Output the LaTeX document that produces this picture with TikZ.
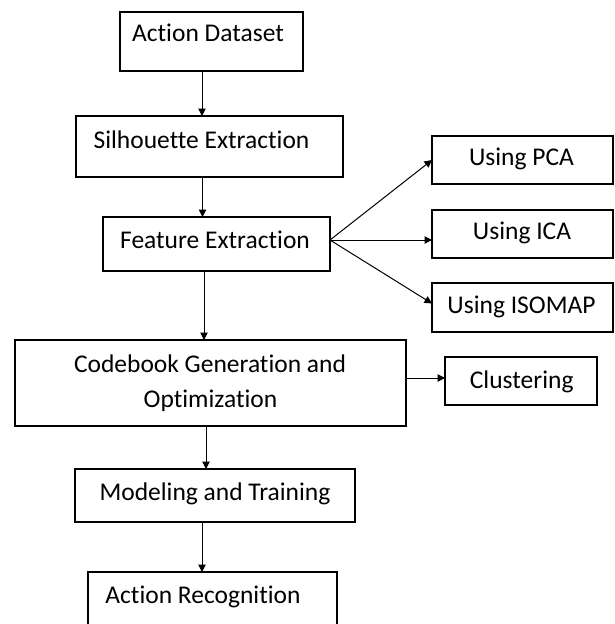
\documentclass[tikz,border=0pt]{standalone}
\usepackage{fontspec}
\setmainfont{Carlito}[Ligatures={NoCommon}]
\usetikzlibrary{arrows.meta}
\tikzset{
  mainbox/.style={draw, line width=2pt, inner sep=0pt, outer sep=0pt},
  sidebox/.style={draw, line width=1.3pt, inner sep=0pt, outer sep=0pt},
  txt/.style={inner sep=0pt, anchor=base, font=\fontsize{25.5}{30}\selectfont},
  arr/.style={line width=1pt, -{Triangle[length=7.5pt,width=7.5pt]}}
}
\begin{document}
\begin{tikzpicture}[x=1pt,y=-1pt]
\useasboundingbox (0,0) rectangle (614,624);
\clip (0,0) rectangle (614,624);
% boxes
\node[mainbox, minimum width=183pt, minimum height=58.5pt] (ad) at (211.5,41.25) {};
\node[mainbox, minimum width=267pt, minimum height=61pt] (se) at (209.5,146.5) {};
\node[mainbox, minimum width=227pt, minimum height=54pt] (fe) at (216.5,244) {};
\node[sidebox, minimum width=181pt, minimum height=48pt] (pca) at (522.5,160) {};
\node[sidebox, minimum width=181pt, minimum height=48pt] (ica) at (522.5,234) {};
\node[sidebox, minimum width=181pt, minimum height=49pt] (iso) at (522.5,307.5) {};
\node[mainbox, minimum width=391pt, minimum height=86pt] (cb) at (210.5,383) {};
\node[sidebox, minimum width=152pt, minimum height=48pt] (cl) at (521,381) {};
\node[mainbox, minimum width=280pt, minimum height=53pt] (mt) at (215,495.5) {};
\node[mainbox, minimum width=249pt, minimum height=88pt] (ar) at (212.5,616) {};
% texts
\node[txt] (tad) at (208,41.7) {Action Dataset};
\node[txt] (tse) at (201.5,148) {Silhouette Extraction};
\node[txt] (tfe) at (215,248) {Feature Extraction};
\node[txt] (tpca) at (521.5,165) {Using PCA};
\node[txt] (tica) at (522,239) {Using ICA};
\node[txt] (tiso) at (521.5,313) {Using ISOMAP};
\node[txt] (tcb1) at (210,372) {Codebook Generation and};
\node[txt] (tcb2) at (210.5,407) {Optimization};
\node[txt] (tcl) at (521.7,388) {Clustering};
\node[txt] (tmt) at (215,500) {Modeling and Training};
\node[txt] (tar) at (203,603) {Action Recognition};
% arrows
\draw[arr] (202,0 |- ad.south) -- (202,0 |- se.north);
\draw[arr] (202.5,0 |- se.south) -- (202.5,0 |- fe.north);
\draw[arr] (204,0 |- fe.south) -- (204,0 |- cb.north);
\draw[arr] (206,0 |- cb.south) -- (206,0 |- mt.north);
\draw[arr] (202,0 |- mt.south) -- (202,0 |- ar.north);
\coordinate (fo) at ([yshift=4pt]fe.east);
\draw[arr] (fo) -- (pca.west);
\draw[arr] (fo) -- (fo -| ica.west);
\draw[arr] (fo) -- ([yshift=4pt]iso.west);
\draw[arr] (cb.east |- 0,378) -- (cl.west |- 0,378);
\end{tikzpicture}
\end{document}
